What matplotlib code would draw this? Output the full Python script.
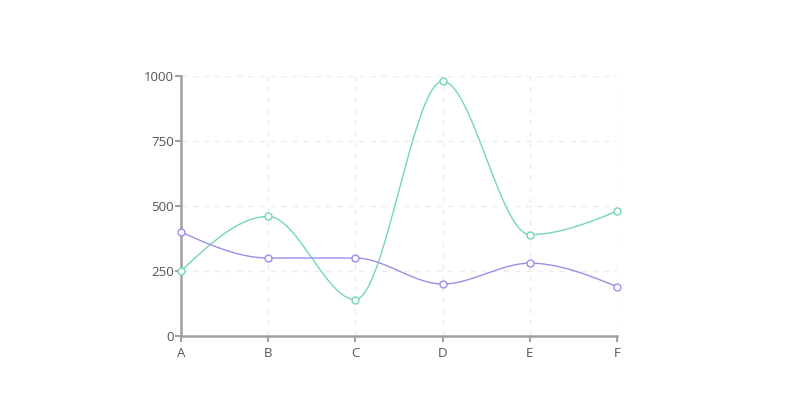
import numpy as np
import matplotlib.pyplot as plt

categories = ['A', 'B', 'C', 'D', 'E', 'F']
series_green = [250, 460, 140, 980, 390, 480]
series_purple = [400, 300, 300, 200, 280, 190]
y_ticks = [0, 250, 500, 750, 1000]

GREEN = '#74d9b0'
PURPLE = '#9a8fe6'


def monotone_x(xs, ys, steps=40):
    # monotone cubic curve through the points (like d3.curveMonotoneX)
    xs = np.asarray(xs, float)
    ys = np.asarray(ys, float)
    n = len(xs)
    h = np.diff(xs)
    s = np.diff(ys) / h
    m = np.zeros(n)
    for i in range(1, n - 1):
        p = (s[i - 1] * h[i] + s[i] * h[i - 1]) / (h[i - 1] + h[i])
        m[i] = (np.sign(s[i - 1]) + np.sign(s[i])) * min(abs(s[i - 1]), abs(s[i]), 0.5 * abs(p))
    m[0] = (3 * s[0] - m[1]) / 2
    m[-1] = (3 * s[-1] - m[-2]) / 2
    out_x, out_y = [], []
    t = np.linspace(0, 1, steps)
    for i in range(n - 1):
        dx = h[i] / 3
        y0, y1 = ys[i], ys[i + 1]
        c1 = y0 + dx * m[i]
        c2 = y1 - dx * m[i + 1]
        out_x.append(xs[i] + t * h[i])
        out_y.append((1 - t)**3 * y0 + 3 * (1 - t)**2 * t * c1 + 3 * (1 - t) * t**2 * c2 + t**3 * y1)
    return np.concatenate(out_x), np.concatenate(out_y)


plt.rcParams['font.family'] = ['Open Sans', 'DejaVu Sans']

fig = plt.figure(figsize=(8, 4), dpi=100)
ax = fig.add_axes([0.22625, 0.16, 0.545, 0.65])

x = np.arange(len(categories))
for vals, col in [(series_green, GREEN), (series_purple, PURPLE)]:
    sx, sy = monotone_x(x, vals)
    ax.plot(sx, sy, color=col, linewidth=1.0, zorder=3)
    ax.plot(x, vals, 'o', markersize=5, markerfacecolor='white',
            markeredgecolor=col, markeredgewidth=1.0, zorder=4, clip_on=False)

ax.set_xlim(0, len(categories) - 1)
ax.set_ylim(0, 1000)
ax.set_xticks(x)
ax.set_xticklabels(categories)
ax.set_yticks(y_ticks)

ax.grid(True, linestyle=(0, (4, 4)), color='#ededed', linewidth=1)
ax.set_axisbelow(True)

for s in ['top', 'right']:
    ax.spines[s].set_visible(False)
for s in ['left', 'bottom']:
    ax.spines[s].set_color('#a0a0a0')
    ax.spines[s].set_linewidth(1.8)

ax.tick_params(axis='both', colors='#a0a0a0', length=4, width=1.5,
               labelsize=9.5, labelcolor='#555555')
ax.tick_params(axis='y', pad=1)
ax.tick_params(axis='x', pad=4)

fig.savefig('out.png', dpi=100)
